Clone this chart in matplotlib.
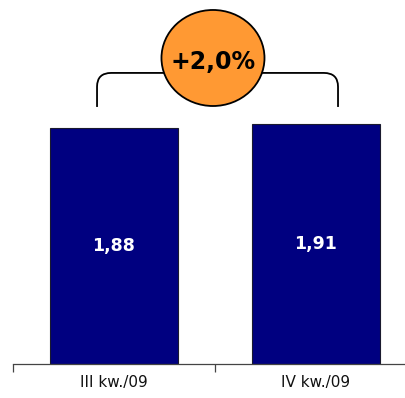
import matplotlib
matplotlib.use("Agg")
import matplotlib.pyplot as plt
from matplotlib.path import Path
from matplotlib.patches import PathPatch, Ellipse

categories = ["III kw./09", "IV kw./09"]
values = [1.88, 1.91]
change_label = "+2,0%"
value_labels = ["1,88", "1,91"]

W, H, DPI = 406, 398, 100
fig = plt.figure(figsize=(W / DPI, H / DPI), dpi=DPI)

# axes span in pixels: x from 13 to 417, baseline at 364 px from top
left_px, right_px, base_px = 13, 417, 364
ax = fig.add_axes([left_px / W, (H - base_px) / H, (right_px - left_px) / W, base_px / H])
ymax = 2.9
ax.set_xlim(-0.5, 1.5)
ax.set_ylim(0, ymax)

x = list(range(len(categories)))
ax.bar(x, values, width=0.63, color="#000080", edgecolor="#1a1a2e", linewidth=0.8, zorder=2)
for xi, v, lab in zip(x, values, value_labels):
    ax.text(xi, v * 0.5, lab, color="white", fontweight="bold", fontsize=12.5,
            ha="center", va="center", zorder=3)

for s in ["top", "right", "left"]:
    ax.spines[s].set_visible(False)
ax.spines["bottom"].set_color("#444444")
ax.spines["bottom"].set_linewidth(0.9)
ax.set_yticks([])
ax.set_xticks([-0.5, 0.5, 1.5])
ax.set_xticklabels([])
ax.tick_params(axis="x", length=6, color="#444444", width=0.9)
for xi, c in zip(x, categories):
    ax.text(xi, -0.145, c, ha="center", va="center", fontsize=11, color="#111111",
            transform=ax.transData, clip_on=False)

# bracket spanning both bars
xl, xr = -0.084, 1.109
yb, yt = 2.048, 2.319
rx, ry = 0.07, 0.11
verts = [(xl, yb), (xl, yt - ry), (xl, yt), (xl + rx, yt),
         (xr - rx, yt), (xr, yt), (xr, yt - ry), (xr, yb)]
codes = [Path.MOVETO, Path.LINETO, Path.CURVE3, Path.CURVE3,
         Path.LINETO, Path.CURVE3, Path.CURVE3, Path.LINETO]
ax.add_patch(PathPatch(Path(verts, codes), fill=False, edgecolor="black",
                       linewidth=1.3, clip_on=False, zorder=3))

cx = 0.49
ax.add_patch(Ellipse((cx, 2.438), 0.51, 0.765, facecolor="#FF9933",
                     edgecolor="black", linewidth=1.3, clip_on=False, zorder=4))
ax.text(cx, 2.41, change_label, ha="center", va="center", fontsize=17,
        fontweight="bold", color="black", zorder=5)

fig.savefig("out.png", dpi=DPI)
